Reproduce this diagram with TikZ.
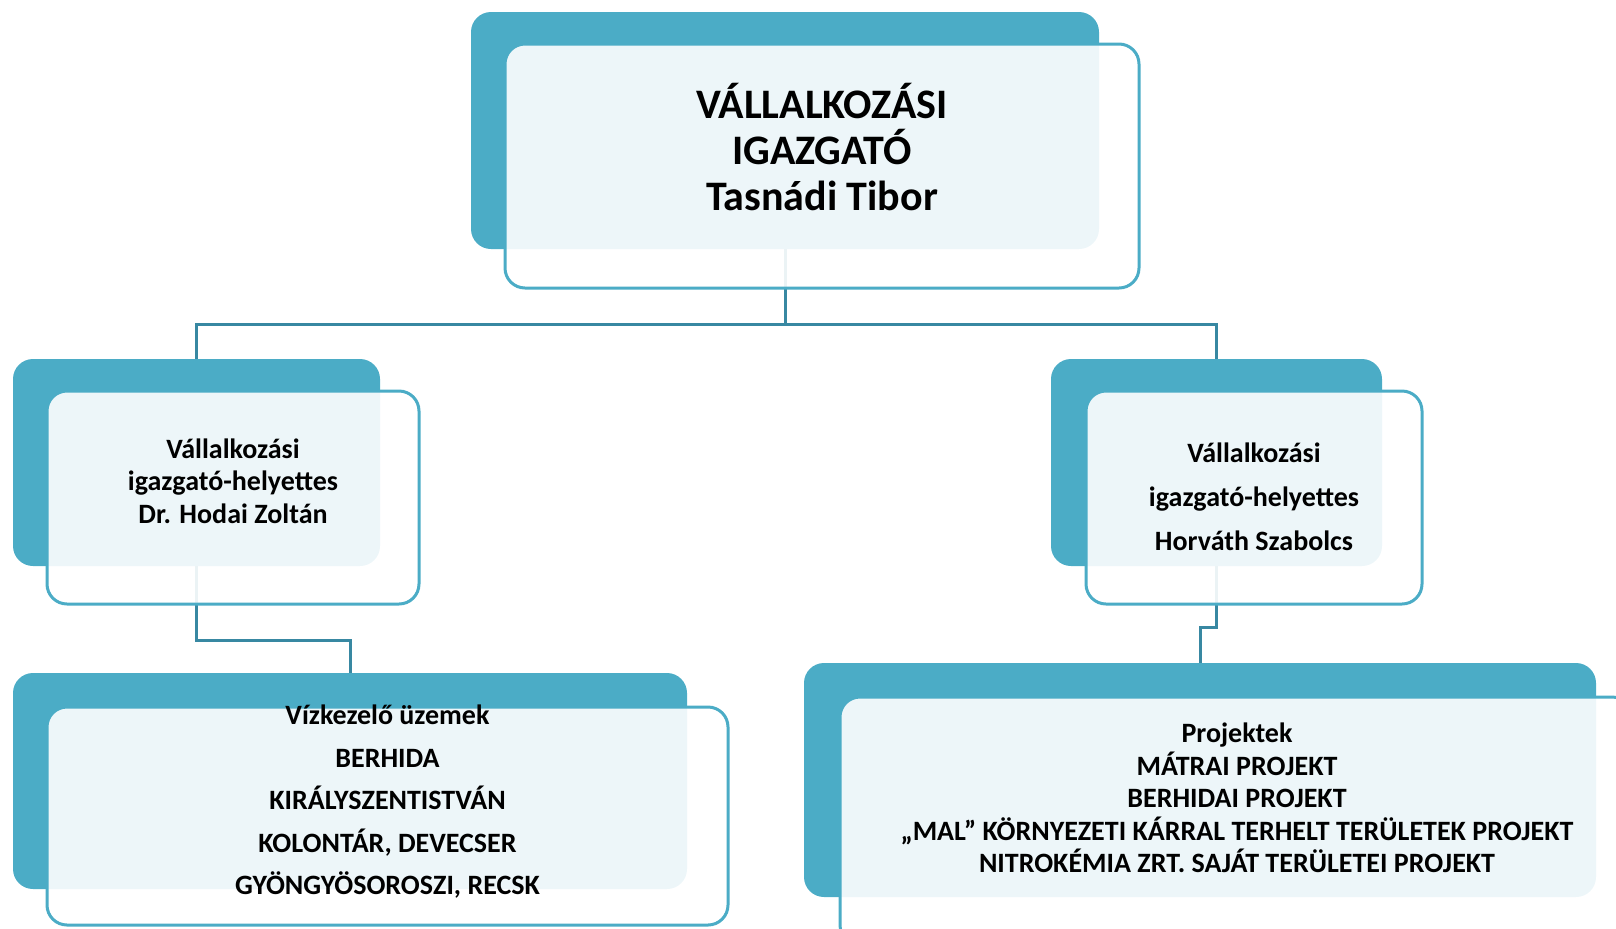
\documentclass[tikz,border=0pt]{standalone}
\usepackage{fontspec}
\setmainfont{Carlito}
\definecolor{tealfill}{RGB}{75,172,198}
\definecolor{connc}{RGB}{56,136,162}
\begin{document}
\begin{tikzpicture}[x=0.5pt,y=-0.5pt,
  backbox/.style={fill=tealfill, draw=none, rounded corners=10pt, inner sep=0pt},
  frontbox/.style={fill=white, fill opacity=0.9, draw=tealfill, draw opacity=1, line width=1.5pt, rounded corners=10pt, inner sep=0pt},
  conn/.style={draw=connc, line width=1.5pt},
  lbl/.style={align=center, text=black, inner sep=0pt}]
\useasboundingbox (0,0) rectangle (1616,928);
\clip (0,0) rectangle (1616,928);
% back boxes
\node[backbox, minimum width=314pt, minimum height=118.5pt] (tb) at (785,130.5) {};
\node[backbox, minimum width=183.5pt, minimum height=103.5pt] (lb) at (196.5,462.5) {};
\node[backbox, minimum width=165.5pt, minimum height=103.5pt] (rb) at (1216.5,462.5) {};
\node[backbox, minimum width=337pt, minimum height=108pt] (blb) at (350,781) {};
\node[backbox, minimum width=396pt, minimum height=117pt] (brb) at (1200,780) {};
% connectors
\coordinate (j1) at (785,324);
\coordinate (j2) at (196.5,640);
\coordinate (j3) at (1216.5,627);
\draw[conn] (tb.south) -- (j1);
\draw[conn] (lb.north) |- (j1) -| (rb.north);
\draw[conn] (lb.south) -- (j2) -| (blb.north);
\draw[conn] (rb.south) -- (j3) -| (brb.north);
% front boxes
\node[frontbox, minimum width=317pt, minimum height=122pt] (tf) at (822,166) {};
\node[frontbox, minimum width=186pt, minimum height=106.5pt] (lf) at (233,497.5) {};
\node[frontbox, minimum width=168pt, minimum height=106.5pt] (rf) at (1254,497.5) {};
\node[frontbox, minimum width=340.5pt, minimum height=109pt] (blf) at (387.5,816) {};
\node[frontbox, minimum width=396pt, minimum height=124pt] (brf) at (1236,821) {};
% texts
\node[lbl, font=\fontsize{21}{23}\selectfont\bfseries] (t1) at (822,147) {VÁLLALKOZÁSI\\IGAZGATÓ\\Tasnádi Tibor};
\node[lbl, font=\fontsize{14}{16.25}\selectfont\bfseries] (t2) at (233,481) {Vállalkozási\\igazgató-helyettes\\Dr. Hodai Zoltán};
\node[lbl, font=\fontsize{14}{22}\selectfont\bfseries] (t3) at (1254,497) {Vállalkozási\\igazgató-helyettes\\Horváth Szabolcs};
\node[lbl, font=\fontsize{14}{21.25}\selectfont\bfseries] (t4) at (387.5,802) {Vízkezelő üzemek\\BERHIDA\\KIRÁLYSZENTISTVÁN\\KOLONTÁR, DEVECSER\\GYÖNGYÖSOROSZI, RECSK};
\node[lbl, font=\fontsize{14}{16.25}\selectfont\bfseries] (t5) at (1237,798) {Projektek\\MÁTRAI PROJEKT\\BERHIDAI PROJEKT\\„MAL” KÖRNYEZETI KÁRRAL TERHELT TERÜLETEK PROJEKT\\NITROKÉMIA ZRT. SAJÁT TERÜLETEI PROJEKT};
\end{tikzpicture}
\end{document}
